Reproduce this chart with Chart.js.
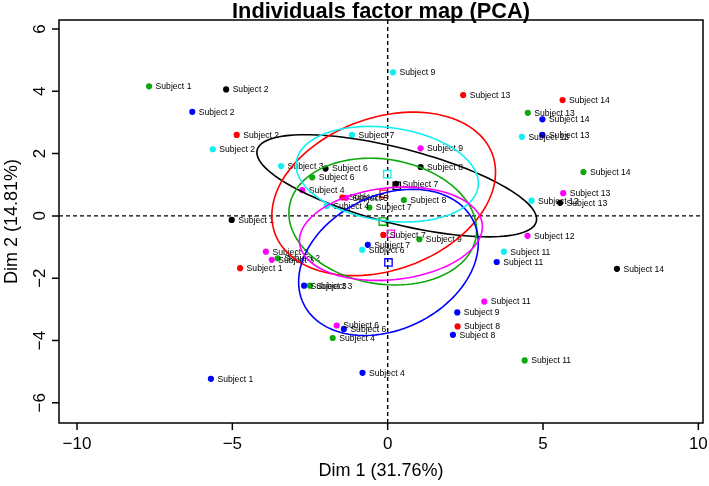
<!DOCTYPE html>
<html>
<head>
<meta charset="utf-8">
<title>Individuals factor map (PCA)</title>
<script src="https://cdn.jsdelivr.net/npm/chart.js@4.4.1/dist/chart.umd.min.js"></script>
<style>
  html, body { margin: 0; padding: 0; background: #fff; }
  #pca { display: block; }
</style>
</head>
<body>
<canvas id="pca" width="709" height="486"></canvas>
<script>
// Individuals coordinates on Dim 1 / Dim 2, one set of arrays per group (colour)
const blackX = [-5.20, -2.00, 1.06, 0.27, -5.02, 5.55, 7.38];
const blackY = [4.06, 1.52, 1.57, 1.03, -0.13, 0.42, -1.70];
const blackNames = ['Subject 2', 'Subject 6', 'Subject 8', 'Subject 7', 'Subject 1', 'Subject 13', 'Subject 14'];

const redX = [-4.86, 2.43, 5.63, -1.46, -0.14, -4.75, 2.25];
const redY = [2.60, 3.88, 3.72, 0.59, -0.61, -1.68, -3.55];
const redNames = ['Subject 2', 'Subject 13', 'Subject 14', 'Subject 5', 'Subject 7', 'Subject 1', 'Subject 8'];

const greenX = [-7.68, -2.43, -0.59, 0.52, 1.02, -3.54, -2.50, -1.77, 4.41, 4.51, 6.30];
const greenY = [4.16, 1.24, 0.27, 0.51, -0.75, -1.36, -2.24, -3.92, -4.64, 3.31, 1.41];
const greenNames = ['Subject 1', 'Subject 6', 'Subject 7', 'Subject 8', 'Subject 9', 'Subject 2', 'Subject 3', 'Subject 4', 'Subject 11', 'Subject 13', 'Subject 14'];

const blueX = [-6.29, 4.98, 4.98, -0.64, 3.51, -2.69, 2.24, 2.10, -1.41, -0.81, -5.69];
const blueY = [3.34, 3.10, 2.60, -0.93, -1.48, -2.24, -3.10, -3.82, -3.63, -5.04, -5.23];
const blueNames = ['Subject 2', 'Subject 14', 'Subject 13', 'Subject 7', 'Subject 11', 'Subject 3', 'Subject 9', 'Subject 8', 'Subject 6', 'Subject 4', 'Subject 1'];

const cyanX = [0.17, -1.15, -5.63, -3.43, 4.32, -1.96, 4.63, -0.82, 3.74];
const cyanY = [4.61, 2.60, 2.14, 1.60, 2.54, 0.32, 0.49, -1.09, -1.15];
const cyanNames = ['Subject 9', 'Subject 7', 'Subject 2', 'Subject 3', 'Subject 13', 'Subject 4', 'Subject 12', 'Subject 6', 'Subject 11'];

const magentaX = [1.06, -2.75, -1.34, 5.65, 4.50, -3.92, -3.73, -1.64, 3.11];
const magentaY = [2.17, 0.83, 0.58, 0.73, -0.64, -1.15, -1.41, -3.52, -2.75];
const magentaNames = ['Subject 9', 'Subject 4', 'Subject 5', 'Subject 13', 'Subject 12', 'Subject 2', 'Subject 3', 'Subject 6', 'Subject 11'];

const groupColors = ['#000000', '#FF0000', '#0CA80C', '#0000FF', '#10EEF0', '#FF00FF'];

// Axes
const xTicks = [-10, -5, 0, 5, 10];
const yTicks = [-6, -4, -2, 0, 2, 4, 6];
const xRange = [-10.58, 10.15];
const yRange = [-6.65, 6.29];
const xTitle = 'Dim 1 (31.76%)';
const yTitle = 'Dim 2 (14.81%)';
const mainTitle = 'Individuals factor map (PCA)';

// chi-square 0.95 quantile with 2 df, for the confidence ellipses around the barycentres
const CHI2_95 = 5.991;

const groups = [
    { color: groupColors[0], xs: blackX, ys: blackY, names: blackNames },
    { color: groupColors[1], xs: redX, ys: redY, names: redNames },
    { color: groupColors[2], xs: greenX, ys: greenY, names: greenNames },
    { color: groupColors[3], xs: blueX, ys: blueY, names: blueNames },
    { color: groupColors[4], xs: cyanX, ys: cyanY, names: cyanNames },
    { color: groupColors[5], xs: magentaX, ys: magentaY, names: magentaNames }
];

function mean(arr) {
    return arr.reduce((s, v) => s + v, 0) / arr.length;
}

// Confidence ellipse of the group mean (centre, semi axes, angle) from the points
function groupEllipse(g) {
    const n = g.xs.length;
    const mx = mean(g.xs), my = mean(g.ys);
    let sxx = 0, syy = 0, sxy = 0;
    for (let i = 0; i < n; i++) {
        const dx = g.xs[i] - mx, dy = g.ys[i] - my;
        sxx += dx * dx; syy += dy * dy; sxy += dx * dy;
    }
    sxx /= (n - 1); syy /= (n - 1); sxy /= (n - 1);
    const tr = sxx + syy, det = sxx * syy - sxy * sxy;
    const disc = Math.sqrt(Math.max(tr * tr / 4 - det, 0));
    const l1 = tr / 2 + disc, l2 = tr / 2 - disc;
    const angle = Math.atan2(l1 - sxx, sxy);
    return {
        cx: mx, cy: my,
        a: Math.sqrt(l1 * CHI2_95 / n),
        b: Math.sqrt(Math.max(l2, 0) * CHI2_95 / n),
        angle: angle
    };
}

const pointSets = groups.map(g => ({
    data: g.xs.map((x, i) => ({ x: x, y: g.ys[i] })),
    pointRadius: 3.1,
    pointBackgroundColor: g.color,
    pointBorderWidth: 0,
    pointBorderColor: g.color,
    showLine: false
}));

const barySets = groups.map(g => ({
    data: [{ x: mean(g.xs), y: mean(g.ys) }],
    pointStyle: 'rect',
    pointRadius: 5.2,
    pointBackgroundColor: 'rgba(0,0,0,0)',
    pointBorderColor: g.color,
    pointBorderWidth: 1.3,
    showLine: false
}));

const FONT = '"Liberation Sans", Arial, Helvetica, sans-serif';

const pcaDecor = {
    id: 'pcaDecor',
    beforeDatasetsDraw(chart) {
        const { ctx, chartArea: a, scales: { x, y } } = chart;
        // dashed axes through the origin
        ctx.save();
        ctx.strokeStyle = '#000';
        ctx.lineWidth = 1.4;
        ctx.setLineDash([4, 3]);
        const x0 = x.getPixelForValue(0), y0 = y.getPixelForValue(0);
        ctx.beginPath();
        ctx.moveTo(x0, a.top); ctx.lineTo(x0, a.bottom);
        ctx.moveTo(a.left, y0); ctx.lineTo(a.right, y0);
        ctx.stroke();
        ctx.restore();
    },
    afterDatasetsDraw(chart) {
        const { ctx, scales: { x, y } } = chart;
        ctx.save();
        // point labels
        ctx.fillStyle = '#000';
        ctx.font = '8.6px ' + FONT;
        ctx.textAlign = 'left';
        ctx.textBaseline = 'middle';
        groups.forEach(g => {
            g.names.forEach((name, i) => {
                ctx.fillText(name, x.getPixelForValue(g.xs[i]) + 6.5, y.getPixelForValue(g.ys[i]) + 0.5);
            });
        });
        // confidence ellipses
        ctx.lineWidth = 1.6;
        groups.forEach(g => {
            const e = groupEllipse(g);
            const ca = Math.cos(e.angle), sa = Math.sin(e.angle);
            ctx.strokeStyle = g.color;
            ctx.beginPath();
            for (let k = 0; k <= 120; k++) {
                const t = k / 120 * Math.PI * 2;
                const u = e.a * Math.cos(t), v = e.b * Math.sin(t);
                const px = x.getPixelForValue(e.cx + u * ca - v * sa);
                const py = y.getPixelForValue(e.cy + u * sa + v * ca);
                if (k === 0) ctx.moveTo(px, py); else ctx.lineTo(px, py);
            }
            ctx.closePath();
            ctx.stroke();
        });
        ctx.restore();
    },
    afterDraw(chart) {
        const { ctx, chartArea: a, scales: { x, y } } = chart;
        ctx.save();
        ctx.strokeStyle = '#000';
        ctx.fillStyle = '#000';
        ctx.lineWidth = 1.5;
        ctx.strokeRect(a.left, a.top, a.right - a.left, a.bottom - a.top);

        // tick marks
        ctx.beginPath();
        xTicks.forEach(v => {
            const px = x.getPixelForValue(v);
            ctx.moveTo(px, a.bottom); ctx.lineTo(px, a.bottom + 7);
        });
        yTicks.forEach(v => {
            const py = y.getPixelForValue(v);
            ctx.moveTo(a.left, py); ctx.lineTo(a.left - 7, py);
        });
        ctx.stroke();

        const fmt = v => (v < 0 ? '\u2212' + Math.abs(v) : String(v));
        ctx.font = '17px ' + FONT;
        ctx.textAlign = 'center';
        ctx.textBaseline = 'middle';
        xTicks.forEach(v => {
            ctx.fillText(fmt(v), x.getPixelForValue(v), a.bottom + 21);
        });
        yTicks.forEach(v => {
            ctx.save();
            ctx.translate(a.left - 19, y.getPixelForValue(v));
            ctx.rotate(-Math.PI / 2);
            ctx.fillText(fmt(v), 0, 0);
            ctx.restore();
        });

        // axis titles
        ctx.font = '18px ' + FONT;
        const midX = (a.left + a.right) / 2, midY = (a.top + a.bottom) / 2;
        ctx.fillText(xTitle, midX, a.bottom + 48);
        ctx.save();
        ctx.translate(12, midY);
        ctx.rotate(-Math.PI / 2);
        ctx.fillText(yTitle, 0, 0);
        ctx.restore();

        // main title
        ctx.font = 'bold 21.8px ' + FONT;
        ctx.fillText(mainTitle, midX, 12);
        ctx.restore();
    }
};

new Chart(document.getElementById('pca'), {
    type: 'scatter',
    data: { datasets: pointSets.concat(barySets) },
    options: {
        responsive: false,
        devicePixelRatio: 1,
        animation: false,
        layout: { autoPadding: false, padding: { left: 59, right: 6, top: 20, bottom: 63 } },
        scales: {
            x: { type: 'linear', min: xRange[0], max: xRange[1], display: false },
            y: { type: 'linear', min: yRange[0], max: yRange[1], display: false }
        },
        plugins: {
            legend: { display: false },
            tooltip: { enabled: false },
            title: { display: false }
        }
    },
    plugins: [pcaDecor]
});
</script>
</body>
</html>
